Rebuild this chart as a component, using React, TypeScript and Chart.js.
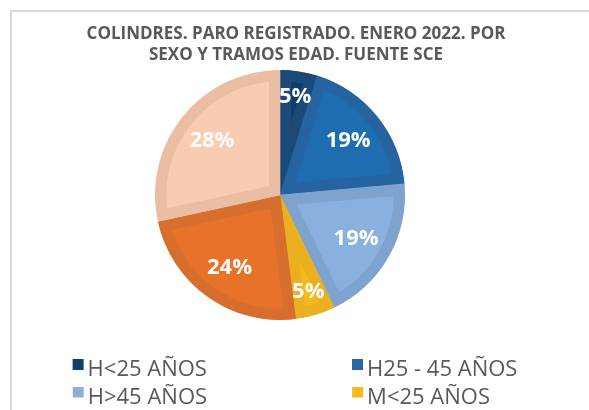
import React, { useEffect, useRef } from 'react';
import { Chart, registerables } from 'chart.js';

Chart.register(...registerables);

const categories = ['H<25 AÑOS', 'H25 - 45 AÑOS', 'H>45 AÑOS', 'M<25 AÑOS', 'M25 - 45 AÑOS', 'M>45 AÑOS'];
const values = [29, 113, 116, 31, 142, 171];
const titleLines = ['COLINDRES. PARO REGISTRADO. ENERO 2022. POR', 'SEXO Y TRAMOS EDAD. FUENTE SCE'];
const fillColors = ['#0d3d6c', '#1e6db1', '#88b1df', '#f6b91c', '#e8722a', '#f9cbb0'];
const bandColors = ['#1b4a77', '#2563a1', '#7fa3cf', '#ebb020', '#d66e2e', '#e9bea3'];
const legendColors = ['#0f3f6c', '#2466a7', '#8fafd8', '#f5b91c', '#e2712b', '#f2c5aa'];

const FONT = '"Open Sans", "Noto Sans", sans-serif';
const TEXT_COLOR = '#595959';
const LEGEND_SIZE = 22;
const COL1_TEXT = 260.5;
const COL2_TEXT = 150;

function padTo(ctx: CanvasRenderingContext2D, text: string, target: number): string {
  let t = text;
  for (let k = 0; k < 200 && ctx.measureText(t + ' ').width <= target; k++) t += ' ';
  for (let k = 0; k < 60; k++) {
    const w = ctx.measureText(t).width;
    if (w >= target - 0.6) break;
    const t2 = t + '\u200A';
    const w2 = ctx.measureText(t2).width;
    if (w2 <= w || w2 > target + 0.6) break;
    t = t2;
  }
  return t;
}

function makeBox(color: string): HTMLCanvasElement {
  const c = document.createElement('canvas');
  c.width = 20;
  c.height = 22;
  const g = c.getContext('2d')!;
  g.fillStyle = color;
  g.fillRect(7, 0, 11, 11);
  return c;
}

const sliceLabels = {
  id: 'sliceLabels',
  afterDatasetsDraw(chart: any) {
    const meta = chart.getDatasetMeta(0);
    const total = values.reduce((a, b) => a + b, 0);
    const ctx = chart.ctx as CanvasRenderingContext2D;
    ctx.save();
    ctx.font = `bold 22px ${FONT}`;
    ctx.fillStyle = '#ffffff';
    ctx.textAlign = 'center';
    ctx.textBaseline = 'middle';
    meta.data.forEach((arc: any, i: number) => {
      const p = arc.getProps(['x', 'y', 'startAngle', 'endAngle', 'outerRadius'], true);
      const frac = values[i] / total;
      const mid = (p.startAngle + p.endAngle) / 2;
      const r = p.outerRadius * (frac < 0.1 ? 0.8 : 0.7);
      ctx.fillText(Math.round(frac * 100) + '%', p.x + Math.cos(mid) * r, p.y + Math.sin(mid) * r + 1);
    });
    ctx.restore();
  },
};

export default function App() {
  const ref = useRef<HTMLCanvasElement>(null);

  useEffect(() => {
    if (!ref.current) return;
    const boxes = legendColors.map(makeBox);
    const chart = new Chart(ref.current, {
      type: 'pie',
      data: {
        labels: categories,
        datasets: [
          {
            data: values,
            backgroundColor: fillColors,
            borderColor: bandColors,
            borderWidth: 11,
            borderAlign: 'inner',
            borderJoinStyle: 'miter',
            radius: 125,
          } as any,
        ],
      },
      options: {
        responsive: false,
        animation: false,
        layout: { padding: { left: 10, right: 7, top: 10, bottom: 0 } },
        scales: {
          padRight: {
            axis: 'y',
            type: 'linear',
            position: 'right',
            display: true,
            grid: { display: false },
            border: { display: false },
            ticks: { display: false },
            afterFit: (s: any) => {
              s.width = 32;
            },
          },
          padBottom: {
            axis: 'x',
            type: 'linear',
            position: 'bottom',
            display: true,
            grid: { display: false },
            border: { display: false },
            ticks: { display: false },
            afterFit: (s: any) => {
              s.height = 32.05;
            },
          },
        } as any,
        plugins: {
          tooltip: { enabled: false },
          title: {
            display: true,
            text: titleLines,
            color: TEXT_COLOR,
            font: { family: FONT, size: 17, weight: 'bold', lineHeight: '21.7px' } as any,
            padding: { top: 13, bottom: 2.15 },
          },
          legend: {
            position: 'bottom',
            align: 'center',
            labels: {
              usePointStyle: true,
              pointStyleWidth: 2,
              padding: 5.5,
              color: TEXT_COLOR,
              font: { family: FONT, size: LEGEND_SIZE },
              generateLabels: (ch: any) => {
                const ctx = ch.ctx as CanvasRenderingContext2D;
                ctx.save();
                ctx.font = `${LEGEND_SIZE}px ${FONT}`;
                const items = categories.map((c, i) => ({
                  text: padTo(ctx, c, i % 2 === 0 ? COL1_TEXT : COL2_TEXT),
                  fillStyle: legendColors[i],
                  strokeStyle: legendColors[i],
                  lineWidth: 0,
                  pointStyle: boxes[i],
                  hidden: !ch.getDataVisibility(i),
                  index: i,
                  fontColor: TEXT_COLOR,
                }));
                ctx.restore();
                return items as any;
              },
            },
          },
        },
      },
      plugins: [sliceLabels],
    });
    return () => chart.destroy();
  }, []);

  return (
    <div
      style={{
        position: 'fixed',
        left: 0,
        top: 0,
        width: 589,
        height: 410,
        overflow: 'hidden',
        background: '#ffffff',
      }}
    >
      <div
        style={{
          position: 'absolute',
          left: 10,
          top: 10,
          width: 700,
          height: 700,
          borderTop: '2px solid #d9d9d9',
          borderLeft: '2px solid #d9d9d9',
          boxSizing: 'border-box',
        }}
      />
      <canvas
        ref={ref}
        width={589}
        height={446}
        style={{ position: 'absolute', left: 0, top: 0, width: 589, height: 446 }}
      />
    </div>
  );
}
